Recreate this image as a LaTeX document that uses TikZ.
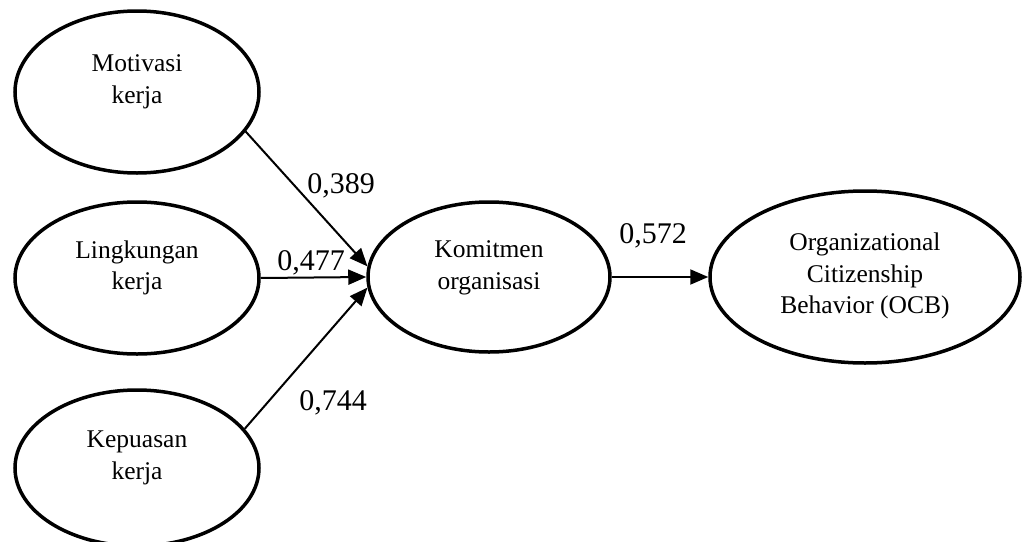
\documentclass[tikz,border=0pt]{standalone}
\usepackage{fontspec}
\setmainfont{Liberation Serif}
\usetikzlibrary{shapes.geometric,arrows.meta}
\tikzset{
  var/.style={draw, ellipse, line width=3.5pt, inner sep=0pt},
  vartext/.style={align=center, font=\fontsize{25.5}{31.5}\selectfont},
  coef/.style={font=\fontsize{30}{36}\selectfont, inner sep=0pt},
  link/.style={line width=2pt, -{Triangle[length=18pt,width=15pt]}},
}
\begin{document}
\begin{tikzpicture}[x=1pt,y=-1pt]
            \useasboundingbox (0,0) rectangle (1023,541);
            \node[var, minimum width=244, minimum height=162] (mot) at (137,92) {};
            \node[var, minimum width=244, minimum height=152] (lin) at (137,278) {};
            \node[var, minimum width=244, minimum height=156] (kep) at (137,468) {};
            \node[var, minimum width=242, minimum height=150] (kom) at (489,277) {};
            \node[var, minimum width=310, minimum height=172] (ocb) at (865,277) {};

            \node[vartext] (motT) at (137,82) {Motivasi\\kerja};
            \node[vartext] (linT) at (137,268) {Lingkungan\\kerja};
            \node[vartext] (kepT) at (137,458) {Kepuasan\\kerja};
            \node[vartext] (komT) at (489,268) {Komitmen\\organisasi};
            \node[vartext] (ocbT) at (865,276) {Organizational\\Citizenship\\Behavior (OCB)};

            \draw[link] (mot.-20) -- (kom.175);
            \draw[link] (lin.east) -- (kom.west);
            \draw[link] (kep.20) -- (kom.185);
            \draw[link] (kom.east) -- (ocb.west);

            \node[coef] (b1) at (341,186) {0,389};
            \node[coef] (b2) at (311,263) {0,477};
            \node[coef] (b3) at (333,403) {0,744};
            \node[coef] (b4) at (653,236) {0,572};
\end{tikzpicture}
\end{document}
